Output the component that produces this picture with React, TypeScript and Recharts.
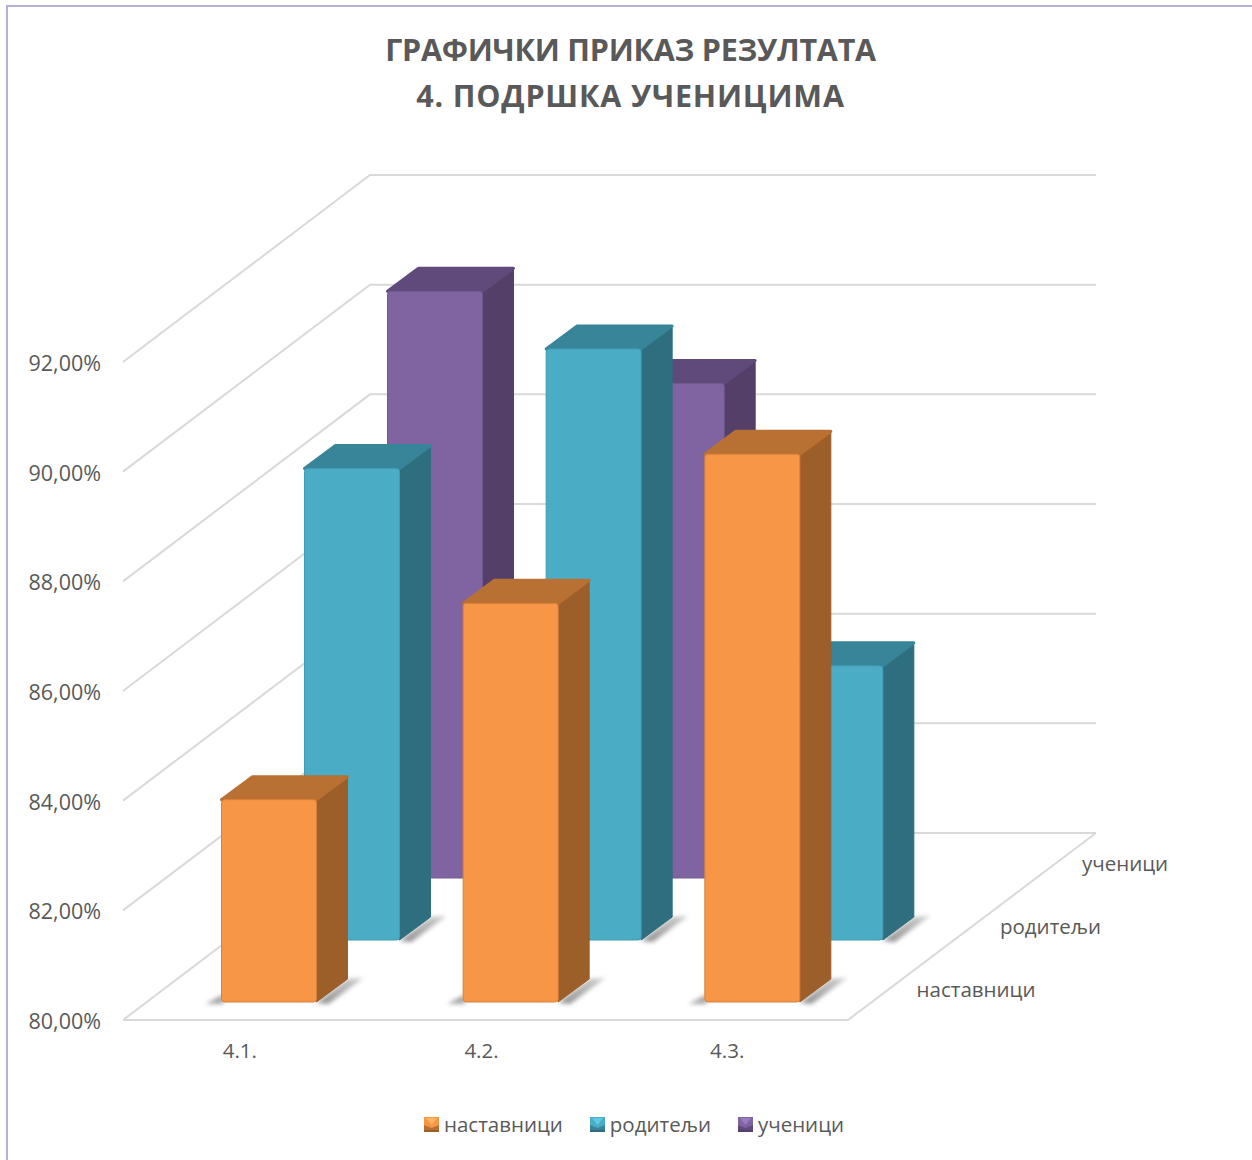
import React from "react";
import { Bar, ComposedChart, Legend, ReferenceLine, XAxis, YAxis } from "recharts";

const categories = ["4.1.", "4.2.", "4.3."];
const nastavnici = [83.69, 87.27, 89.99];
const roditelji = [88.6, 90.78, 85.0];
const ucenici = [90.7, 89.02, null];
const yTicks = [80, 82, 84, 86, 88, 90, 92];
const depthLabels = ["наставници", "родитељи", "ученици"];

const data = categories.map((name, i) => ({
  name,
  nastavnici: nastavnici[i],
  roditelji: roditelji[i],
  ucenici: ucenici[i],
}));

const FONT = "'Open Sans', sans-serif";
const TEXT = "#595959";
const GRID = "#d9d9d9";

// 3d projection, all in px
const WALL_DX = 247;
const WALL_DY = 187;
const BAR_DX = 31;
const BAR_DY = 23;
const ROW_STEP_X = 83;
const ROW_STEP_Y = 62;

const palette = {
  nastavnici: { front: "#F79646", side: "#9C5F2A", top: "#B97033", edge: "#D9803A", light: "#FBB45F" },
  roditelji: { front: "#4BACC6", side: "#2F6E7F", top: "#388499", edge: "#3F9AB3", light: "#5CCBE6" },
  ucenici: { front: "#8064A2", side: "#533F68", top: "#604A7B", edge: "#705A90", light: "#9A7CC0" },
};

function makeBar(colors: typeof palette.nastavnici, row: number) {
  return function Bar3D(props: any) {
    const { x, y, width, height } = props;
    if (!height || height <= 0) return null;
    const left = x + 25.5 + row * ROW_STEP_X;
    const top = y - 18 - row * ROW_STEP_Y;
    const right = left + width;
    const base = top + height;
    const pts = (list: number[][]) => list.map((p) => p.join(",")).join(" ");
    return (
      <g>
        <polygon
          points={pts([
            [right, base + 1],
            [right + BAR_DX, base - BAR_DY],
            [right + BAR_DX + 16, base - BAR_DY - 1],
            [right + 12, base + 2],
          ])}
          fill="url(#shadowFade)"
          filter="url(#barShadow)"
        />
        <polygon
          points={pts([
            [left - 16, base + 2],
            [left + 2, base - 8],
            [left + 2, base + 2],
          ])}
          fill="#a8a8a8"
          filter="url(#barShadow)"
        />
        <polygon
          points={pts([
            [right, top],
            [right + BAR_DX, top - BAR_DY],
            [right + BAR_DX, base - BAR_DY],
            [right, base],
          ])}
          fill={colors.side}
          stroke={colors.side}
          strokeLinejoin="round"
          strokeWidth={1}
        />
        <polygon
          points={pts([
            [left, top],
            [left + BAR_DX, top - BAR_DY],
            [right + BAR_DX, top - BAR_DY],
            [right, top],
          ])}
          fill={colors.top}
          stroke={colors.top}
          strokeLinejoin="round"
          strokeWidth={3}
        />
        <rect x={left} y={top} width={width} height={height} rx={3} fill={colors.front} stroke={colors.edge} strokeWidth={1} />
      </g>
    );
  };
}

function WallLine(props: any) {
  const { x1, x2, y1 } = props;
  const backLeft = x1 + WALL_DX;
  const backY = y1 - WALL_DY;
  const isFloor = props.value === yTicks[0];
  return (
    <g fill="none" stroke={GRID} strokeWidth={2}>
      <polyline points={`${x1},${y1} ${backLeft},${backY} ${x2 + WALL_DX + 1},${backY}`} />
      {isFloor && <polyline points={`${x1},${y1} ${x2},${y1} ${x2 + WALL_DX + 1},${backY}`} />}
      {isFloor &&
        depthLabels.map((label, i) => (
          <text
            key={label}
            x={x2 + 128 + i * 74.5}
            y={y1 - 31 - i * 63}
            textAnchor="middle"
            dominantBaseline="central"
            fill={TEXT}
            stroke="none"
            fontSize={20.5}
            fontFamily={FONT}
          >
            {label}
          </text>
        ))}
    </g>
  );
}

function CategoryTick(props: any) {
  const nudge = props.index === 2 ? 0 : -4;
  return (
    <text
      x={props.x + nudge}
      y={props.y + 14}
      textAnchor="middle"
      fill={TEXT}
      fontSize={20.5}
      fontFamily={FONT}
    >
      {props.payload.value}
    </text>
  );
}

function Swatch({ c }: { c: typeof palette.nastavnici }) {
  return (
    <svg width={15} height={15} style={{ marginRight: 5 }}>
      <rect width={15} height={15} fill={c.top} />
      <polygon points="0,0 15,0 15,8 7.5,11 0,8" fill={c.front} />
      <polygon points="2,1 13,1 7.5,8" fill={c.light} />
      <polygon points="0,13 15,13 15,15 0,15" fill={c.side} />
    </svg>
  );
}

function LegendRow() {
  const items = [
    { label: depthLabels[0], c: palette.nastavnici },
    { label: depthLabels[1], c: palette.roditelji },
    { label: depthLabels[2], c: palette.ucenici },
  ];
  return (
    <div style={{ display: "flex", justifyContent: "center", gap: 27, fontFamily: FONT, fontSize: 20.5, color: TEXT, lineHeight: "28px" }}>
      {items.map((it) => (
        <div key={it.label} style={{ display: "flex", alignItems: "center" }}>
          <Swatch c={it.c} />
          {it.label}
        </div>
      ))}
    </div>
  );
}

export default function App() {
  return (
    <div style={{ position: "absolute", left: 0, top: 0, width: 1252, height: 1160, background: "#fff", overflow: "hidden" }}>
      <div style={{ position: "absolute", left: 6, top: 5, right: 0, bottom: 0, borderLeft: "2px solid #b9aed3", borderTop: "2px solid #b9aed3" }} />
      <div
        style={{
          position: "absolute",
          left: 0,
          top: 26,
          width: 1261,
          textAlign: "center",
          fontFamily: FONT,
          fontWeight: 700,
          fontSize: 30.5,
          lineHeight: "46px",
          color: TEXT,
        }}
      >
        <span style={{ letterSpacing: -0.25 }}>ГРАФИЧКИ ПРИКАЗ РЕЗУЛТАТА</span>
        <br />
        <span style={{ letterSpacing: 0.8 }}>4. ПОДРШКА УЧЕНИЦИМА</span>
      </div>
      <ComposedChart
        width={1252}
        height={1160}
        data={data}
        barSize={95}
        barGap={-95}
        margin={{ top: 362, right: 404, bottom: 0, left: 0 }}
        style={{ position: "absolute", left: 0, top: 0 }}
      >
        <defs>
          <filter id="barShadow" x="-50%" y="-50%" width="200%" height="200%">
            <feGaussianBlur stdDeviation="2.2" />
          </filter>
          <linearGradient id="shadowFade" x1="0" y1="1" x2="1" y2="0">
            <stop offset="0%" stopColor="#909090" />
            <stop offset="100%" stopColor="#cfcfcf" />
          </linearGradient>
        </defs>
        <XAxis
          dataKey="name"
          axisLine={false}
          tickLine={false}
          height={112}
          tickMargin={18}
          tick={<CategoryTick />}
        />
        <YAxis
          domain={[80, 92]}
          ticks={yTicks}
          width={123}
          axisLine={false}
          tickLine={false}
          tickSize={0}
          tickMargin={22}
          tickFormatter={(v: number) => `${v.toFixed(2).replace(".", ",")}%`}
          tick={{ fill: TEXT, fontSize: 21.5, fontFamily: FONT, dy: 1.5 }}
        />
        {yTicks.map((t) => (
          <ReferenceLine key={t} y={t} zIndex={-50} shape={(p: any) => <WallLine {...p} value={t} />} />
        ))}
        <Bar dataKey="ucenici" isAnimationActive={false} shape={makeBar(palette.ucenici, 2)} />
        <Bar dataKey="roditelji" isAnimationActive={false} shape={makeBar(palette.roditelji, 1)} />
        <Bar dataKey="nastavnici" isAnimationActive={false} shape={makeBar(palette.nastavnici, 0)} />
        <Legend content={<LegendRow />} wrapperStyle={{ position: "absolute", left: 0, top: 1110, width: 1268 }} />
      </ComposedChart>
    </div>
  );
}
